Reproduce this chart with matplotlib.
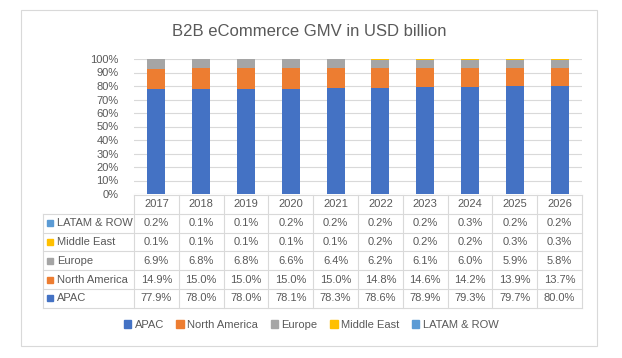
import matplotlib.pyplot as plt
from matplotlib.lines import Line2D
from matplotlib.patches import Rectangle, Patch

plt.rcParams['font.family'] = ['Liberation Sans', 'DejaVu Sans']

years = ['2017', '2018', '2019', '2020', '2021', '2022', '2023', '2024', '2025', '2026']
series = ['APAC', 'North America', 'Europe', 'Middle East', 'LATAM & ROW']
apac = [77.9, 78.0, 78.0, 78.1, 78.3, 78.6, 78.9, 79.3, 79.7, 80.0]
north_america = [14.9, 15.0, 15.0, 15.0, 15.0, 14.8, 14.6, 14.2, 13.9, 13.7]
europe = [6.9, 6.8, 6.8, 6.6, 6.4, 6.2, 6.1, 6.0, 5.9, 5.8]
middle_east = [0.1, 0.1, 0.1, 0.1, 0.1, 0.2, 0.2, 0.2, 0.3, 0.3]
latam_row = [0.2, 0.1, 0.1, 0.2, 0.2, 0.2, 0.2, 0.3, 0.2, 0.2]
colors = ['#4472C4', '#ED7D31', '#A5A5A5', '#FFC000', '#5B9BD5']

values = [apac, north_america, europe, middle_east, latam_row]

W, H = 622, 358
TXT = '#595959'
GRID = '#D9D9D9'


def fx(px):
    return px / W


def fy(py):
    return 1 - py / H


fig = plt.figure(figsize=(W / 100, H / 100), dpi=100)

# chart border
fig.add_artist(Rectangle((fx(21), fy(346)), fx(597) - fx(21), fy(10) - fy(346),
                         transform=fig.transFigure, fill=False, edgecolor=GRID, lw=0.8))

fig.text(fx(309), fy(31), 'B2B eCommerce GMV in USD billion', ha='center', va='center',
         fontsize=12, color=TXT)

left, right, top, bottom = 134, 582, 59, 194
ax = fig.add_axes([fx(left), fy(bottom), fx(right) - fx(left), fy(top) - fy(bottom)])

x = list(range(len(years)))
base = [0.0] * len(years)
for name, vals, c in zip(series, values, colors):
    ax.bar(x, [v / 100 for v in vals], bottom=base, width=0.4, color=c, label=name, zorder=3)
    base = [b + v / 100 for b, v in zip(base, vals)]

ax.set_xlim(-0.5, len(years) - 0.5)
ax.set_ylim(0, 1)
ax.set_yticks([i / 10 for i in range(11)])
ax.set_yticklabels([f'{i * 10}%' for i in range(11)], color=TXT, fontsize=8)
ax.yaxis.grid(True, color=GRID, lw=0.8, zorder=0)
ax.tick_params(axis='y', length=0, pad=11)
ax.set_xticks([])
for s in ax.spines.values():
    s.set_visible(False)

# data table
col_w = (right - left) / len(years)
row_h = 18.8
t_top = 195
label_left = 43
rows = list(zip(series, values, colors))[::-1]
n_rows = len(rows) + 1
t_bot = t_top + n_rows * row_h


def hline(y, x0, x1):
    fig.add_artist(Line2D([fx(x0), fx(x1)], [fy(y), fy(y)], transform=fig.transFigure,
                          color=GRID, lw=0.8))


def vline(xp, y0, y1):
    fig.add_artist(Line2D([fx(xp), fx(xp)], [fy(y0), fy(y1)], transform=fig.transFigure,
                          color=GRID, lw=0.8))


hline(t_top, left, right)
for r in range(1, n_rows + 1):
    hline(t_top + r * row_h, label_left, right)
vline(label_left, t_top + row_h, t_bot)
for k in range(len(years) + 1):
    vline(left + k * col_w, t_top, t_bot)

for k, yr in enumerate(years):
    fig.text(fx(left + (k + 0.5) * col_w), fy(t_top + row_h / 2), yr,
             ha='center', va='center', fontsize=8, color=TXT)

for r, (name, vals, c) in enumerate(rows):
    yc = t_top + (r + 1.5) * row_h
    fig.add_artist(Rectangle((fx(47), fy(yc + 3)), fx(6), fy(0) - fy(6),
                             transform=fig.transFigure, color=c))
    fig.text(fx(57), fy(yc), name, ha='left', va='center', fontsize=8, color=TXT)
    for k, v in enumerate(vals):
        fig.text(fx(left + (k + 0.5) * col_w), fy(yc), f'{v:.1f}%',
                 ha='center', va='center', fontsize=8, color=TXT)

handles = [Patch(color=c, label=n) for n, c in zip(series, colors)]
fig.legend(handles=handles, loc='center', bbox_to_anchor=(fx(311), fy(325)), ncol=5,
           frameon=False, fontsize=8, labelcolor=TXT, handlelength=0.7, handleheight=0.7,
           handletextpad=0.3, columnspacing=1.1)

fig.savefig('out.png', dpi=100)
